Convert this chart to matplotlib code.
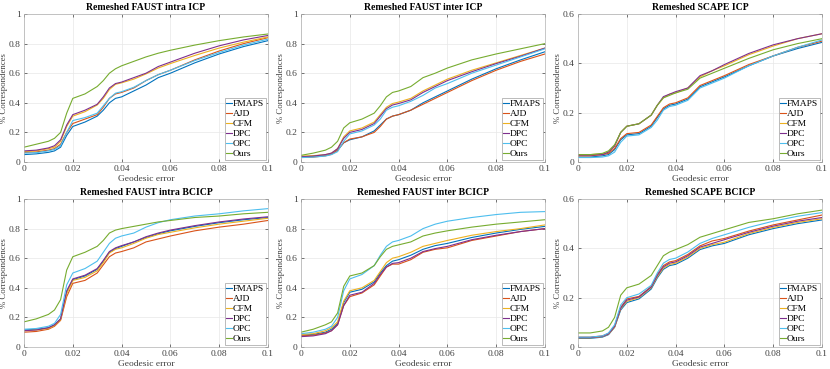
import matplotlib
matplotlib.use("Agg")
import matplotlib.pyplot as plt
from matplotlib.ticker import FuncFormatter

plt.rcParams['font.family'] = ['Liberation Serif', 'DejaVu Serif']

# geodesic error thresholds shared by every curve
err = [0, .005, .01, .0125, .015, .0175, .02, .025, .03, .0325, .035,
       .0375, .04, .045, .05, .055, .06, .07, .08, .09, .1]

methods = ['FMAPS', 'AJD', 'CFM', 'DPC', 'OPC', 'Ours']
colors = ['#0072BD', '#D95319', '#EDB120', '#7E2F8E', '#4DBEEE', '#77AC30']

titles = ['Remeshed FAUST intra ICP', 'Remeshed FAUST inter ICP', 'Remeshed SCAPE ICP',
          'Remeshed FAUST intra BCICP', 'Remeshed FAUST inter BCICP', 'Remeshed SCAPE BCICP']
ymax = [1, 1, 0.6, 1, 1, 0.6]

faust_intra_icp = {
    'FMAPS': [.05, .055, .065, .075, .10, .18, .24, .27, .31, .35, .40, .43, .44, .48, .52, .57, .60, .67, .73, .78, .82],
    'AJD': [.065, .068, .08, .09, .12, .20, .26, .29, .32, .37, .43, .46, .47, .50, .55, .59, .62, .69, .75, .80, .84],
    'CFM': [.07, .075, .09, .10, .14, .24, .31, .34, .385, .43, .49, .525, .535, .56, .595, .635, .665, .72, .77, .81, .845],
    'DPC': [.075, .08, .095, .11, .15, .25, .32, .35, .39, .44, .50, .53, .54, .57, .60, .645, .675, .735, .785, .825, .855],
    'OPC': [.06, .063, .075, .085, .11, .20, .28, .30, .33, .38, .43, .465, .475, .505, .55, .59, .62, .685, .74, .79, .83],
    'Ours': [.10, .12, .14, .16, .20, .33, .43, .46, .51, .55, .60, .63, .65, .68, .71, .735, .755, .79, .82, .845, .865],
}
faust_inter_icp = {
    'FMAPS': [.035, .037, .045, .055, .08, .13, .15, .17, .21, .25, .29, .31, .32, .35, .40, .44, .48, .56, .63, .69, .745],
    'AJD': [.03, .033, .042, .052, .08, .13, .155, .17, .20, .24, .29, .31, .32, .35, .39, .43, .47, .55, .62, .68, .73],
    'CFM': [.04, .043, .05, .06, .09, .17, .21, .23, .27, .32, .37, .395, .405, .43, .48, .52, .56, .62, .67, .72, .77],
    'DPC': [.035, .04, .05, .06, .09, .16, .20, .22, .26, .31, .36, .385, .395, .42, .47, .51, .55, .61, .665, .715, .77],
    'OPC': [.03, .033, .04, .05, .07, .14, .19, .21, .25, .29, .35, .37, .38, .41, .45, .50, .53, .60, .655, .71, .765],
    'Ours': [.045, .06, .08, .10, .14, .23, .265, .29, .33, .38, .44, .47, .48, .51, .57, .60, .635, .69, .73, .765, .80],
}
scape_icp = {
    'FMAPS': [.02, .02, .025, .03, .05, .09, .11, .115, .145, .18, .215, .23, .235, .255, .305, .325, .345, .39, .43, .46, .485],
    'AJD': [.025, .025, .03, .035, .055, .095, .115, .12, .15, .185, .22, .235, .24, .26, .31, .33, .35, .395, .43, .465, .49],
    'CFM': [.03, .03, .033, .04, .065, .12, .145, .155, .19, .23, .26, .275, .28, .30, .345, .37, .39, .435, .47, .50, .52],
    'DPC': [.028, .028, .03, .04, .065, .12, .145, .155, .19, .23, .265, .275, .285, .30, .35, .37, .395, .44, .475, .50, .52],
    'OPC': [.018, .018, .02, .025, .04, .08, .105, .11, .14, .17, .21, .225, .23, .25, .30, .32, .34, .39, .43, .465, .495],
    'Ours': [.03, .03, .035, .045, .07, .12, .145, .155, .19, .23, .26, .27, .28, .295, .34, .36, .38, .42, .455, .48, .50],
}
faust_intra_bcicp = {
    'FMAPS': [.115, .12, .13, .15, .19, .37, .455, .48, .525, .58, .64, .665, .68, .71, .74, .765, .785, .815, .84, .86, .875],
    'AJD': [.10, .105, .12, .14, .18, .34, .43, .45, .50, .555, .61, .635, .645, .67, .71, .73, .75, .785, .81, .83, .855],
    'CFM': [.11, .115, .125, .145, .185, .36, .45, .47, .515, .57, .635, .66, .67, .70, .735, .76, .775, .805, .83, .85, .87],
    'DPC': [.11, .115, .13, .15, .19, .38, .46, .485, .53, .585, .645, .67, .685, .71, .745, .77, .79, .82, .845, .865, .88],
    'OPC': [.12, .125, .14, .16, .22, .42, .50, .53, .58, .64, .70, .735, .75, .77, .81, .84, .86, .885, .90, .92, .935],
    'Ours': [.17, .19, .22, .25, .32, .52, .61, .64, .68, .72, .77, .79, .80, .815, .83, .845, .855, .875, .885, .90, .91],
}
faust_inter_bcicp = {
    'FMAPS': [.08, .085, .10, .12, .16, .30, .37, .39, .44, .50, .55, .58, .59, .62, .66, .685, .70, .74, .77, .795, .815],
    'AJD': [.075, .08, .095, .11, .15, .28, .34, .365, .42, .48, .54, .56, .56, .59, .64, .66, .67, .72, .75, .78, .80],
    'CFM': [.085, .09, .11, .13, .17, .31, .38, .40, .45, .51, .57, .60, .61, .64, .68, .70, .72, .755, .78, .80, .825],
    'DPC': [.07, .075, .09, .11, .15, .28, .35, .37, .43, .49, .54, .565, .57, .60, .645, .665, .68, .725, .755, .78, .80],
    'OPC': [.09, .10, .12, .14, .20, .38, .46, .49, .55, .62, .68, .71, .72, .75, .80, .83, .85, .875, .895, .91, .915],
    'Ours': [.10, .12, .15, .17, .23, .41, .48, .50, .55, .61, .66, .68, .69, .71, .75, .77, .785, .81, .83, .845, .86],
}
scape_bcicp = {
    'FMAPS': [.035, .035, .04, .05, .08, .15, .18, .195, .235, .28, .315, .33, .335, .36, .395, .41, .42, .455, .48, .50, .515],
    'AJD': [.04, .04, .045, .055, .085, .16, .195, .205, .245, .295, .33, .345, .35, .375, .41, .43, .44, .47, .495, .515, .535],
    'CFM': [.037, .037, .042, .052, .08, .155, .185, .20, .24, .285, .32, .335, .34, .365, .40, .415, .425, .46, .485, .505, .52],
    'DPC': [.038, .038, .043, .053, .083, .158, .19, .203, .243, .29, .325, .34, .345, .37, .405, .42, .435, .465, .49, .51, .525],
    'OPC': [.04, .04, .045, .057, .09, .17, .20, .215, .25, .30, .34, .355, .36, .385, .42, .44, .455, .485, .51, .53, .545],
    'Ours': [.057, .057, .065, .08, .12, .21, .24, .255, .29, .33, .37, .385, .395, .415, .445, .46, .475, .505, .52, .54, .555],
}
panels = [faust_intra_icp, faust_inter_icp, scape_icp,
          faust_intra_bcicp, faust_inter_bcicp, scape_bcicp]

W, H = 830, 369
fig = plt.figure(figsize=(W / 100, H / 100), dpi=100)

lefts = [24, 301, 578]
tops = [14, 199]
aw, ah = 244, 148

fmt = FuncFormatter(lambda v, p: '%g' % round(v, 4))

for k, data in enumerate(panels):
    r, c = divmod(k, 3)
    ax = fig.add_axes([lefts[c] / W, 1 - (tops[r] + ah) / H, aw / W, ah / H])
    for m, col in zip(methods, colors):
        ax.plot(err, data[m], color=col, lw=0.8, label=m)
    ax.set_xlim(0, 0.1)
    ax.set_ylim(0, ymax[k])
    ax.set_xticks([0, 0.02, 0.04, 0.06, 0.08, 0.1])
    ax.set_yticks([i * 0.2 for i in range(int(round(ymax[k] / 0.2)) + 1)])
    ax.xaxis.set_major_formatter(fmt)
    ax.yaxis.set_major_formatter(fmt)
    ax.tick_params(direction='in', length=2, width=0.5, labelsize=6.8,
                   colors='#404040', pad=2.5, top=True, right=True)
    ax.grid(True, color='#e8e8e8', lw=0.5)
    for s in ax.spines.values():
        s.set_color('#b0b0b0')
        s.set_linewidth(0.5)
    ax.set_title(titles[k], fontsize=7, fontweight='bold', pad=3)
    ax.set_xlabel('Geodesic error', fontsize=6.8, labelpad=1, color='#404040')
    ax.set_ylabel('% Correspondences', fontsize=6.3, labelpad=0.5, color='#404040')
    leg = ax.legend(loc='lower right', fontsize=6.8, handlelength=0.6,
                    handletextpad=0.1, labelspacing=0.15, borderpad=0.2,
                    borderaxespad=0.2, fancybox=False, framealpha=1)
    leg.get_frame().set_edgecolor('#a0a0a0')
    leg.get_frame().set_linewidth(0.5)

fig.savefig('out.png', dpi=100)
